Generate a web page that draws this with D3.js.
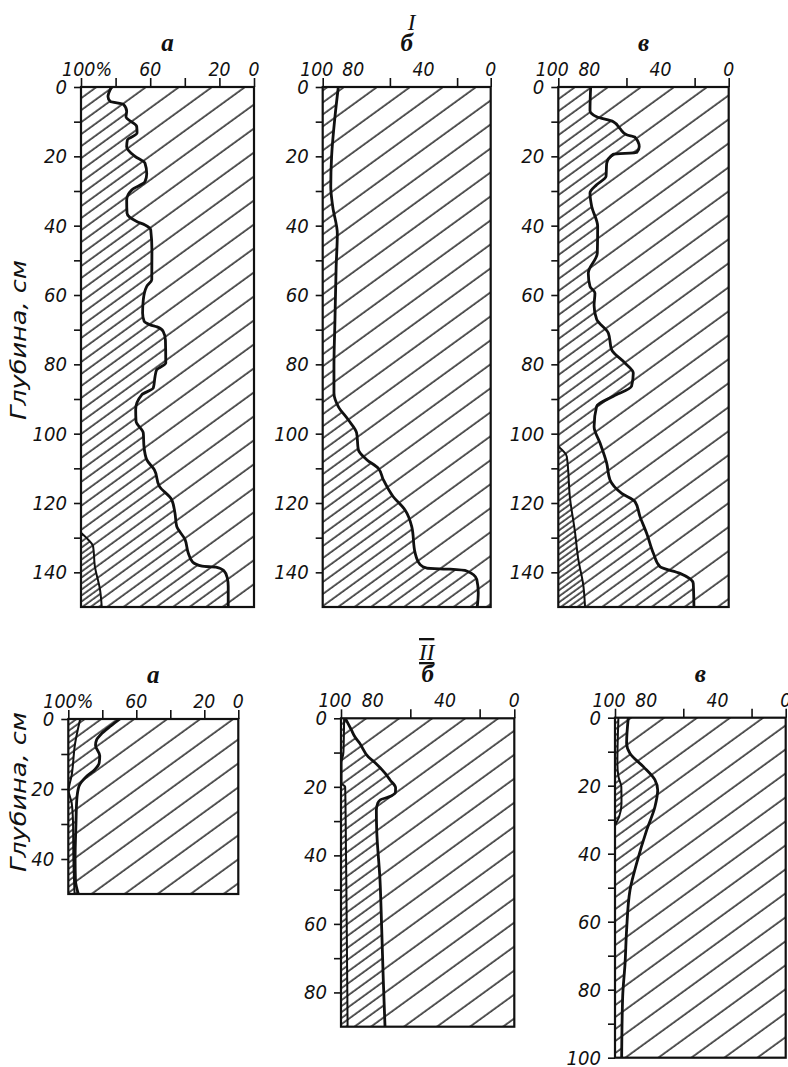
<!DOCTYPE html>
<html>
<head>
<meta charset="utf-8">
<script src="https://cdn.jsdelivr.net/npm/d3@7"></script>
<style>
  body { margin: 0; background: #fff; }
  svg { display: block; }
  .tick text, .lbl { font-family: "DejaVu Sans", sans-serif; font-style: italic; font-size: 20px; fill: #111; }
  .letter { font-family: "Liberation Serif", serif; font-style: italic; font-weight: bold; font-size: 25px; fill: #111; }
  .roman { font-family: "Liberation Serif", serif; font-style: italic; font-size: 23px; fill: #111; }
</style>
</head>
<body>
<div id="container"></div>
<script>
// [depth cm, percent]
const I_a_main = [[0,82.3],[2.8,84.4],[4.2,83],[5,75.5],[7,73.6],[8.6,74],[11.4,67.8],[13.3,67.6],[15.3,73.2],[17.2,73.6],[20,68.8],[22,63],[25,62],[27.3,63],[29.7,70.7],[32.6,73.6],[36.4,73.4],[38.8,67.8],[39.8,63],[41.2,59.7],[47,59],[55.6,59.1],[57.5,62],[61.4,64],[65.2,64.4],[67.6,63.5],[68.6,60],[69.2,56],[70.5,52.5],[73,51.2],[79.6,51],[81.6,56.3],[83.5,57.2],[86.8,58.2],[88.8,64.9],[93,68.4],[96.4,68.2],[99.8,64],[103.7,63.6],[107.5,62],[110.4,57.6],[115.2,54.7],[119,47.6],[122.9,45.7],[126.7,44.7],[130.5,39.9],[134.4,38],[137,35.5],[138.2,30],[138.5,22],[139.5,17.5],[141.5,15.5],[144,14.9],[150,14.9]];
const I_a_inner = [[128.6,100],[130,97],[132.5,93],[138.2,92],[145,89],[150,88]];

const I_b_main = [[0,90.7],[8.6,92.7],[20,94.7],[28.8,95.2],[34.6,94],[42.3,91.3],[51.9,92],[67.2,92.7],[80.6,93.3],[88.3,93.3],[92.2,90.7],[96,84.8],[99.8,79.8],[104.6,78.8],[107.5,73.8],[110,66.9],[113.3,63.9],[118.2,58],[122,51],[126.8,47],[134.4,45],[137.8,42],[138.8,38],[139.1,24.2],[139.6,14.3],[142,8.3],[145.9,7.4],[150,8]];

const I_v_main = [[0,81],[6.8,81.4],[8.6,77.5],[10,67.7],[12,63.8],[13.8,59.9],[14.5,55],[17.2,52.5],[18.9,54],[19.4,67.7],[22,71.6],[25.8,72],[28.2,77.5],[30.6,81.4],[34.5,80.4],[40.2,76.9],[47.9,77.1],[53.7,82.4],[57.5,81.4],[59.4,78.5],[63,79],[67,77.5],[71,70.6],[75.8,68.7],[79.6,60.9],[82.5,56],[86.3,57],[89.2,67.7],[92.1,77.5],[97.9,79],[102.7,75.5],[108.5,71.6],[113.3,69.7],[117.2,62.8],[119.6,55],[124,52],[128.8,48.1],[134.5,44.2],[138.4,40.3],[140.3,28.6],[143.2,20.8],[150,20.4]];
const I_v_inner = [[103.7,100],[106.6,95],[118.8,93.1],[128.4,90.2],[136.1,88.3],[143.8,85.3],[150,84.3]];

const II_a_main = [[0,69.6],[2,75],[4.5,81],[5.9,83.3],[7.5,84],[10.5,81.5],[12.5,81.8],[14.5,84.5],[16.5,89.5],[19.3,93.8],[23,95],[30,95.5],[40,96],[46,95.8],[50,94.1]];
const II_a_inner = [[0,93],[7,96],[16,98],[20.5,99.8],[24,98],[30,97.2],[40,97],[50,96.3]];

const II_b_main = [[0,97.5],[3.4,94],[5.4,92],[7.3,89.2],[11.2,84.3],[13.1,80],[16,74.6],[18,71.7],[20.3,68.5],[21.6,68.6],[23,72.7],[23.8,77.3],[24.8,78.8],[26.8,79.6],[32.6,79.4],[47.2,77.5],[61.7,76.5],[76.3,75.6],[90,74.6]];
const II_b_inner = [[0,98.2],[10,98.6],[13,99.7],[19,99.7],[20,97.6],[40,97.1],[60,96.7],[90,96.2]];

const II_v_main = [[0,92.2],[7.5,93.2],[10.5,91.2],[14.4,83.4],[18.3,76.6],[21.3,75],[26.2,76.6],[33,81.4],[42.8,87.3],[50.7,91.2],[62.4,93.2],[72.2,94.1],[82,95.5],[100,96.1]];
const II_v_inner = [[0,98],[13.3,98.6],[17.3,98],[20.3,96.3],[25.2,96.2],[29,97.5],[31.5,99.8]];

// tick values and labels
const xTicksA = [100, 80, 60, 40, 20, 0];
const xLabelsA = [100, 60, 20, 0];
const xTicksBV = [100, 60, 20, 0];
const xLabelsBV = [100, 80, 40, 0];
const depthLabels = [0, 20, 40, 60, 80, 100, 120, 140];
const letters = ["а", "б", "в"];
const groupNames = ["I", "II"];
const depthTitle = "Глубина, см";

const width = 788, height = 1067;

const svg = d3.select("#container").append("svg")
    .attr("width", width)
    .attr("height", height);

const defs = svg.append("defs");
function hatch(id, gap) {
    const p = defs.append("pattern")
        .attr("id", id)
        .attr("patternUnits", "userSpaceOnUse")
        .attr("width", 12)
        .attr("height", gap)
        .attr("patternTransform", "rotate(-36)");
    p.append("rect").attr("width", 12).attr("height", gap).attr("fill", "#fff");
    p.append("rect").attr("x", 0).attr("y", 0.4).attr("width", 12).attr("height", 1.3)
        .attr("fill", "#000");
}
hatch("sparse", 19.4);
hatch("dense", 9.7);
hatch("densest", 4.85);

// squeeze a label to a narrow italic look
function narrow(sel, perChar) {
    sel.each(function() {
        const t = d3.select(this), s = t.text();
        if (s.length) t.attr("textLength", s === "100%" ? 50 : s.length * perChar)
            .attr("lengthAdjust", "spacingAndGlyphs");
    });
}

function DepthPanel({
    main, inner = null, depthMax,
    left, right, top, bottom,
    xTicks, xLabels, letter, pctShift = 0
}) {
    const x = d3.scaleLinear().domain([100, 0]).range([left, right]);
    const y = d3.scaleLinear().domain([0, depthMax]).range([top, bottom]);
    const g = svg.append("g");

    const areaRight = d3.area().curve(d3.curveMonotoneY)
        .y(d => y(d[0])).x0(d => x(d[1])).x1(x(0));
    const areaLeft = d3.area().curve(d3.curveMonotoneY)
        .y(d => y(d[0])).x0(x(100)).x1(d => x(d[1]));
    const line = d3.line().curve(d3.curveMonotoneY)
        .y(d => y(d[0])).x(d => x(d[1]));

    g.append("path").attr("d", areaRight(main)).attr("fill", "url(#sparse)");
    g.append("path").attr("d", areaLeft(main)).attr("fill", "url(#dense)");
    if (inner) {
        g.append("path").attr("d", areaLeft(inner)).attr("fill", "url(#densest)");
        g.append("path").attr("d", line(inner))
            .attr("fill", "none").attr("stroke", "#111").attr("stroke-width", 2);
    }
    g.append("path").attr("d", line(main))
        .attr("fill", "none").attr("stroke", "#111").attr("stroke-width", 2.8)
        .attr("stroke-linejoin", "round");

    g.append("rect")
        .attr("x", left).attr("y", top)
        .attr("width", right - left).attr("height", bottom - top)
        .attr("fill", "none").attr("stroke", "#111").attr("stroke-width", 2.2);

    // top percentage axis
    const xAxis = g.append("g")
        .attr("transform", `translate(0,${top})`)
        .call(d3.axisTop(x).tickValues(xTicks).tickSize(9).tickFormat(""));
    xAxis.select(".domain").remove();
    xAxis.selectAll("line").attr("stroke", "#111").attr("stroke-width", 1.6);

    g.selectAll(".xl").data(xLabels).enter().append("text")
        .attr("class", "lbl")
        .attr("x", d => x(d) + (d === 100 ? (pctShift ? -pctShift : -6) : (d === 80 ? -3 : 0)))
        .attr("y", top - 11)
        .attr("text-anchor", d => (d === 100 && pctShift) ? "start" : "middle")
        .text(d => (d === 100 && pctShift) ? "100%" : d)
        .call(narrow, 11);

    // depth axis
    const yTicks = d3.range(0, depthMax + 0.1, 10).filter(d => d < depthMax || depthMax === 100);
    const yAxis = g.append("g")
        .attr("transform", `translate(${left},0)`)
        .call(d3.axisLeft(y).tickValues(yTicks).tickSize(7).tickPadding(7)
            .tickFormat(d => depthLabels.concat([100]).includes(d) ? d : ""));
    yAxis.select(".domain").remove();
    yAxis.selectAll("line").attr("stroke", "#111").attr("stroke-width", 1.6);
    yAxis.selectAll("text").attr("fill", "#111").call(narrow, 11.5);

    g.append("text").attr("class", "letter")
        .attr("x", (left + right) / 2)
        .attr("y", top - 36)
        .attr("text-anchor", "middle")
        .text(letter);
}

// group I
DepthPanel({ main: I_a_main, inner: I_a_inner, depthMax: 150, left: 81, right: 254, top: 87, bottom: 607,
    xTicks: xTicksA, xLabels: xLabelsA, letter: letters[0], pctShift: 19 });
DepthPanel({ main: I_b_main, depthMax: 150, left: 322.7, right: 490.7, top: 87, bottom: 607,
    xTicks: xTicksBV, xLabels: xLabelsBV, letter: letters[1] });
DepthPanel({ main: I_v_main, inner: I_v_inner, depthMax: 150, left: 558.3, right: 728.7, top: 87, bottom: 607,
    xTicks: xTicksBV, xLabels: xLabelsBV, letter: letters[2] });

// group II
DepthPanel({ main: II_a_main, inner: II_a_inner, depthMax: 50, left: 68.3, right: 238.3, top: 719, bottom: 894,
    xTicks: xTicksA, xLabels: xLabelsA, letter: letters[0], pctShift: 25 });
DepthPanel({ main: II_b_main, inner: II_b_inner, depthMax: 90, left: 341, right: 514.3, top: 718.3, bottom: 1026.7,
    xTicks: xTicksBV, xLabels: xLabelsBV, letter: letters[1] });
DepthPanel({ main: II_v_main, inner: II_v_inner, depthMax: 100, left: 615, right: 785.7, top: 717.7, bottom: 1057.7,
    xTicks: xTicksBV, xLabels: xLabelsBV, letter: letters[2] });

svg.append("text").attr("class", "roman")
    .attr("x", 411.7).attr("y", 30).attr("text-anchor", "middle")
    .text(groupNames[0]);
svg.append("text").attr("class", "roman")
    .attr("x", 426.7).attr("y", 660).attr("text-anchor", "middle")
    .style("text-decoration", "overline underline")
    .text(groupNames[1]);

[[340, 26], [792, 26]].forEach(([cy, bx]) => {
    svg.append("text").attr("class", "lbl")
        .attr("transform", `translate(${bx},${cy}) rotate(-90)`)
        .attr("text-anchor", "middle")
        .style("font-size", "22px")
        .attr("textLength", 160)
        .attr("lengthAdjust", "spacingAndGlyphs")
        .text(depthTitle);
});
</script>
</body>
</html>
